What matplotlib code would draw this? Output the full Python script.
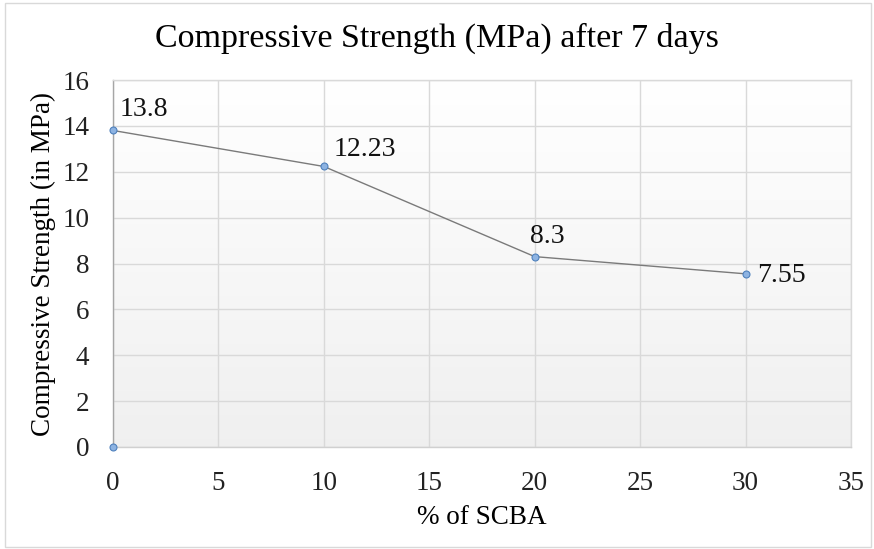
import numpy as np
import matplotlib
matplotlib.use("Agg")
import matplotlib.pyplot as plt
from matplotlib.patches import Rectangle

# Data
scba_pct = [0, 10, 20, 30]
strength = [13.8, 12.23, 8.3, 7.55]
labels = ["13.8", "12.23", "8.3", "7.55"]
extra_x = [0]
extra_y = [0]
xticks = [0, 5, 10, 15, 20, 25, 30, 35]
yticks = [0, 2, 4, 6, 8, 10, 12, 14, 16]

plt.rcParams['font.family'] = ['Liberation Serif', 'DejaVu Serif']

W, H = 874, 549
fig = plt.figure(figsize=(W/100, H/100), dpi=100)
ax = fig.add_axes([113/W, 1-447/H, (851-113)/W, (447-80)/H])

# gradient background (white at top, light grey at bottom)
top = np.array([1.0, 1.0, 1.0])
bot = np.array([0.94, 0.94, 0.94])
ax.imshow(np.linspace(1, 0, 256).reshape(-1, 1, 1) * (bot - top) + top,
          extent=[0, 35, 0, 16], aspect='auto', origin='lower', zorder=0)

ax.set_xlim(0, 35)
ax.set_ylim(0, 16)
ax.set_xticks(xticks)
ax.set_yticks(yticks)
ax.grid(True, color='#d9d9d9', linewidth=1.0, zorder=1)
ax.set_axisbelow(True)
for s in ax.spines.values():
    s.set_color('#d9d9d9')
    s.set_linewidth(1.0)
ax.spines['left'].set_color('#a6a6a6')
ax.spines['bottom'].set_color('#d0d0d0')
ax.tick_params(axis='both', length=0, labelsize=19.5, colors='#222222')
ax.tick_params(axis='y', pad=17)
ax.tick_params(axis='x', pad=17)

ax.plot(scba_pct, strength, color='#7a7a7a', linewidth=1.0, marker='o',
        markersize=5, markerfacecolor='#8db3e2', markeredgecolor='#4f81bd',
        markeredgewidth=0.8, zorder=3, clip_on=False)
ax.plot(extra_x, extra_y, linestyle='none', marker='o', markersize=5,
        markerfacecolor='#8db3e2', markeredgecolor='#4f81bd',
        markeredgewidth=0.8, zorder=3, clip_on=False)

# offsets in pixels (dx to left edge of text, dy to text centre)
offsets_px = [(7, 21), (10, 17), (-5, 20), (12, -2)]
for x, y, t, (dx, dy) in zip(scba_pct, strength, labels, offsets_px):
    ax.annotate(t, (x, y), xytext=(dx*0.72, dy*0.72), textcoords='offset points',
                fontsize=20, ha='left', va='center', color='#111111', zorder=4)

ax.set_xlabel('% of SCBA', fontsize=19.5)
ax.set_ylabel('Compressive Strength (in MPa)', fontsize=19.5)
ax.xaxis.set_label_coords(0.5, -(518-447)/(447-80), transform=ax.transAxes)
ax.yaxis.set_label_coords(-(113-43)/(851-113), 0.5, transform=ax.transAxes)
ax.xaxis.label.set_va('center')
ax.yaxis.label.set_va('center')

fig.text(0.5, 1-38/H, 'Compressive Strength (MPa) after 7 days',
         ha='center', va='center', fontsize=24.5)

fig.patches.append(Rectangle((0.006, 0.004), 0.99, 0.99, transform=fig.transFigure,
                             fill=False, edgecolor='#d9d9d9', linewidth=1.0))

fig.savefig('out.png', dpi=100)
